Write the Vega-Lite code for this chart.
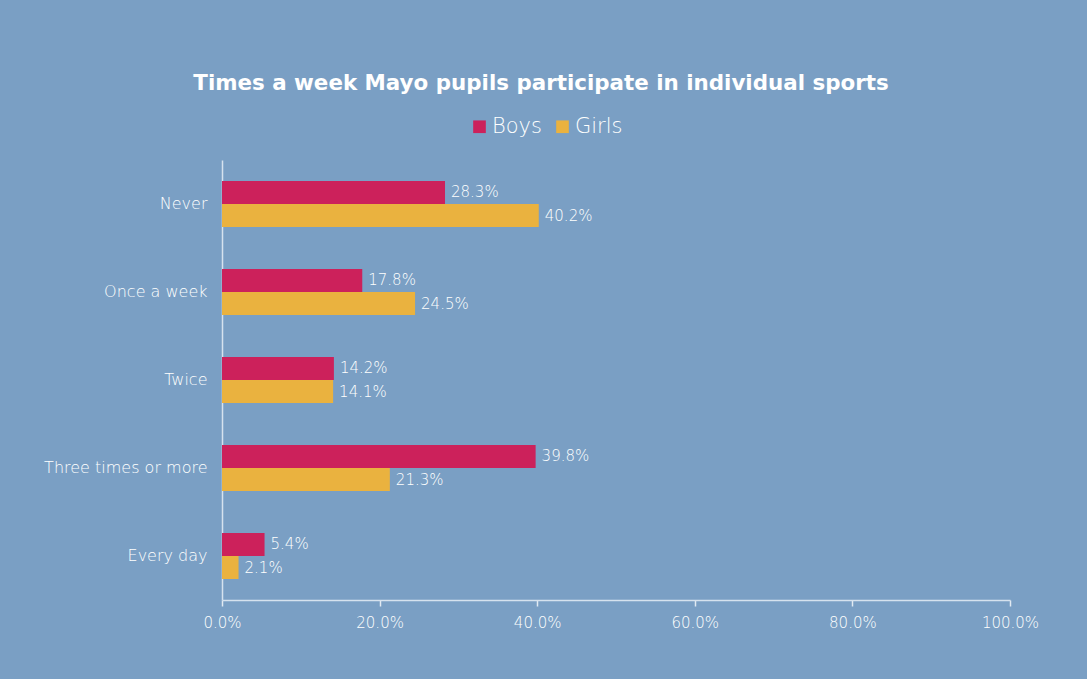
{
  "$schema": "https://vega.github.io/schema/vega-lite/v6.json",
  "autosize": {"type": "none"},
  "width": 788,
  "height": 440,
  "padding": {"left": 222, "top": 160, "right": 77, "bottom": 79},
  "background": "#7A9FC4",
  "config": {"view": {"stroke": null}},
  "title": {
    "text": "Times a week Mayo pupils participate in individual sports",
    "anchor": "middle",
    "dx": -75,
    "offset": 22,
    "font": "DejaVu Sans",
    "fontSize": 21.4,
    "fontWeight": "bold",
    "color": "#FFFFFF"
  },
  "data": {
    "values": [
      {"freq": "Never", "gender": "Boys", "value": 0.283},
      {"freq": "Never", "gender": "Girls", "value": 0.402},
      {"freq": "Once a week", "gender": "Boys", "value": 0.178},
      {"freq": "Once a week", "gender": "Girls", "value": 0.245},
      {"freq": "Twice", "gender": "Boys", "value": 0.142},
      {"freq": "Twice", "gender": "Girls", "value": 0.141},
      {"freq": "Three times or more", "gender": "Boys", "value": 0.398},
      {"freq": "Three times or more", "gender": "Girls", "value": 0.213},
      {"freq": "Every day", "gender": "Boys", "value": 0.054},
      {"freq": "Every day", "gender": "Girls", "value": 0.021}
    ]
  },
  "encoding": {
    "y": {
      "field": "freq",
      "type": "nominal",
      "sort": ["Never", "Once a week", "Twice", "Three times or more", "Every day"],
      "scale": {"paddingInner": 0.477, "paddingOuter": 0.2385},
      "axis": {
        "title": null,
        "ticks": false,
        "labelPadding": 15,
        "labelFont": "DejaVu Sans",
        "labelFontWeight": 200,
        "labelFontSize": 16,
        "labelColor": "#FFFFFF",
        "domainColor": "#D6E2EE",
        "domainWidth": 1.5
      }
    },
    "yOffset": {"field": "gender", "type": "nominal", "sort": ["Boys", "Girls"]},
    "x": {
      "field": "value",
      "type": "quantitative",
      "scale": {"domain": [0, 1], "nice": false},
      "axis": {
        "title": null,
        "format": ".1%",
        "values": [0, 0.2, 0.4, 0.6, 0.8, 1.0],
        "grid": false,
        "ticks": true,
        "labelFlush": false,
        "tickSize": 6,
        "tickWidth": 1.5,
        "tickColor": "#E2EAF2",
        "domainColor": "#D6E2EE",
        "domainWidth": 1.5,
        "labelPadding": 9,
        "labelFont": "DejaVu Sans",
        "labelFontWeight": 200,
        "labelFontSize": 15,
        "labelColor": "#FFFFFF"
      }
    }
  },
  "layer": [
    {
      "mark": {"type": "bar"},
      "encoding": {
        "color": {
          "field": "gender",
          "type": "nominal",
          "scale": {"domain": ["Boys", "Girls"], "range": ["#CC215B", "#EAB23F"]},
          "legend": {
            "title": null,
            "orient": "none",
            "direction": "horizontal",
            "legendX": 247,
            "legendY": -44,
            "symbolType": "square",
            "symbolSize": 160,
            "symbolStrokeWidth": 0,
            "labelFont": "DejaVu Sans",
            "labelFontWeight": 200,
            "labelFontSize": 21,
            "labelColor": "#FFFFFF",
            "columnPadding": 10,
            "labelOffset": 2
          }
        }
      }
    },
    {
      "mark": {"type": "text", "align": "left", "dx": 6, "font": "DejaVu Sans", "fontWeight": 200, "fontSize": 15, "color": "#FFFFFF"},
      "encoding": {
        "text": {"field": "value", "type": "quantitative", "format": ".1%"}
      }
    }
  ]
}
